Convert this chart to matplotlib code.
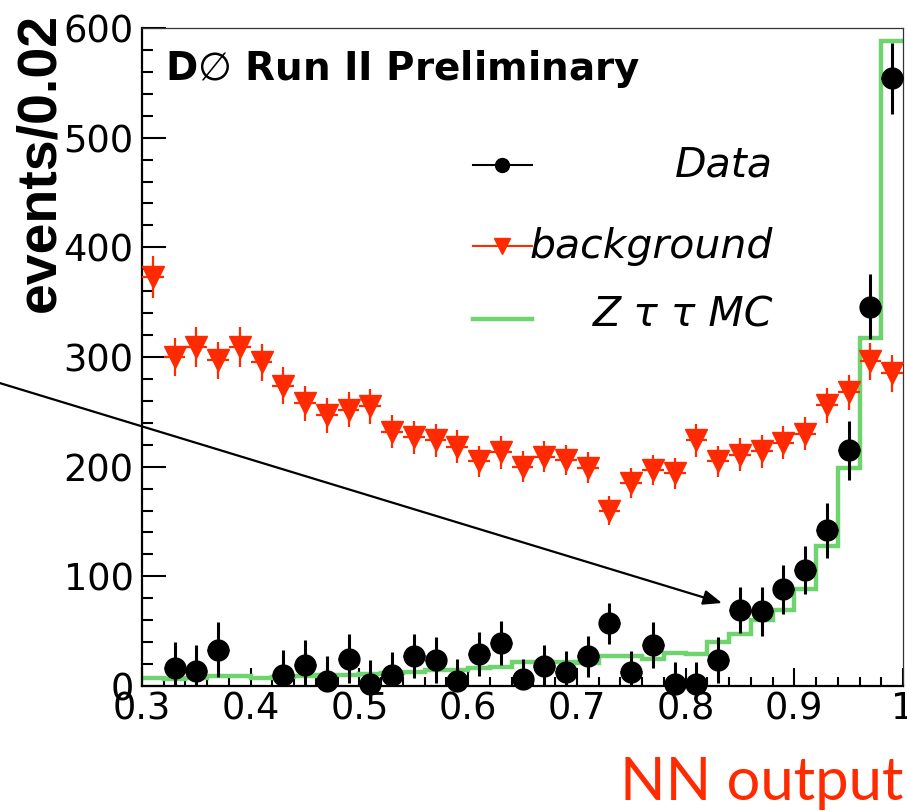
import numpy as np
import matplotlib
matplotlib.use("Agg")
import matplotlib.pyplot as plt
from matplotlib.patches import FancyArrowPatch
from matplotlib.ticker import MultipleLocator

plt.rcParams['font.family'] = ['DejaVu Sans']
plt.rcParams['mathtext.fontset'] = 'dejavusans'

# NN output binning, 0.02 wide
bin_edges = np.round(np.arange(0.30, 1.0001, 0.02), 2)
bin_centers = (bin_edges[:-1] + bin_edges[1:]) / 2

data = [np.nan, 16, 14, 33, np.nan, np.nan, 10, 19, 5, 25,
        2, 10, 27, 24, 5, 29, 39, 6, 18, 13,
        27, 57, 13, 37, 2, 2, 24, 69, 68, 88,
        106, 142, 215, 346, 554]
data_err = [np.nan, 24, 23, 25, np.nan, np.nan, 23, 23, 22, 22,
            22, 21, 20, 21, 20, 20, 20, 19, 19, 19,
            19, 19, 19, 21, 20, 20, 21, 21, 22, 22,
            22, 25, 27, 30, 32]

background = [373, 300, 309, 297, 309, 295, 274, 258, 247, 252,
              255, 232, 227, 224, 218, 205, 213, 200, 209, 206,
              199, 160, 185, 197, 194, 224, 205, 211, 214, 222,
              230, 256, 268, 296, 285]
background_err = [19, 17, 18, 17, 18, 17, 17, 16, 16, 16,
                  16, 15, 15, 15, 15, 14, 15, 14, 14, 14,
                  14, 13, 14, 14, 14, 15, 14, 15, 15, 15,
                  15, 16, 16, 17, 17]

ztautau_mc = [7, 6, 7, 9, 9, 7, 8, 9, 10, 10,
              11, 12, 13, 15, 15, 16, 17, 22, 22, 22,
              21, 27, 27, 25, 30, 29, 40, 47, 60, 69,
              88, 128, 199, 317, 588]

red = '#ff2a00'
green = '#6fd46f'

fig = plt.figure(figsize=(9.07, 8.11), dpi=100)
ax = fig.add_axes([142/907, 1-686/811, 761/907, 658/811])

ax.stairs(ztautau_mc, bin_edges, baseline=None, color=green, lw=3.2, zorder=2)

ax.errorbar(bin_centers, background, yerr=background_err, xerr=0.01,
            fmt='v', color=red, ms=15.5, elinewidth=1.6, capsize=0, zorder=3)

d = np.array(data)
de = np.array(data_err)
lo = np.minimum(de, d)
ax.errorbar(bin_centers, d, yerr=[lo, de], xerr=0.01,
            fmt='o', color='black', ms=15, elinewidth=2.2, capsize=0,
            zorder=4, clip_on=False)

ax.set_xlim(0.3, 1.0)
ax.set_ylim(0, 600)
ax.xaxis.set_major_locator(MultipleLocator(0.1))
ax.xaxis.set_minor_locator(MultipleLocator(0.02))
ax.yaxis.set_major_locator(MultipleLocator(100))
ax.yaxis.set_minor_locator(MultipleLocator(20))
ax.set_xticks(np.round(np.arange(0.3, 1.01, 0.1), 1))
ax.set_xticklabels(['0.3', '0.4', '0.5', '0.6', '0.7', '0.8', '0.9', '1'])

ax.tick_params(axis='both', which='both', direction='in', top=False, right=False, width=1.5)
ax.tick_params(axis='y', which='major', length=17, labelsize=26.5, pad=6)
ax.tick_params(axis='y', which='minor', length=8)
ax.tick_params(axis='x', which='major', length=13, labelsize=26.5, pad=3)
ax.tick_params(axis='x', which='minor', length=6.5)

for s in ['left', 'bottom']:
    ax.spines[s].set_linewidth(1.6)
for s in ['top', 'right']:
    ax.spines[s].set_linewidth(0.9)
    ax.spines[s].set_color('#333333')

fig.text(40/907, 1-13/811, 'events/0.02', rotation=90, ha='center', va='top',
         fontsize=40, fontweight='bold', family=['Liberation Sans', 'DejaVu Sans'])

ax.text(0.0302, 0.921, r'D$\emptyset$ Run II Preliminary', transform=ax.transAxes,
        fontsize=28, fontweight='bold', va='baseline', ha='left')

# legend
lx = [0.435, 0.5125]
mx = 0.473
ax.plot(lx, [0.792, 0.792], color='black', lw=1.5, transform=ax.transAxes, clip_on=False)
ax.plot([mx], [0.792], 'o', color='black', ms=10, transform=ax.transAxes, clip_on=False)
ax.plot(lx, [0.669, 0.669], color=red, lw=1.5, transform=ax.transAxes, clip_on=False)
ax.plot([mx], [0.669], 'v', color=red, ms=12, transform=ax.transAxes, clip_on=False)
ax.plot(lx, [0.557, 0.557], color=green, lw=3.2, transform=ax.transAxes, clip_on=False)

tx = 0.829
ax.text(tx, 0.774, 'Data', transform=ax.transAxes, fontsize=29.5, style='italic',
        ha='right', va='baseline')
ax.text(tx, 0.65, 'background', transform=ax.transAxes, fontsize=29.5, style='italic',
        ha='right', va='baseline')
ax.text(tx, 0.546, 'Z \u03c4 \u03c4 MC', transform=ax.transAxes, fontsize=29.5, style='italic',
        ha='right', va='baseline')

fig.text(903/907, 1-800/811, 'NN output', color=red, fontsize=43,
         family=['Lato', 'DejaVu Sans'], ha='right', va='baseline')

arrow = FancyArrowPatch((-0.02, 1-377.6/811), (722/907, 1-603/811),
                        transform=fig.transFigure,
                        arrowstyle='-|>,head_length=0.45,head_width=0.18',
                        mutation_scale=25, color='black', lw=1.6,
                        shrinkA=0, shrinkB=0)
fig.add_artist(arrow)

fig.savefig('out.png', dpi=100)
